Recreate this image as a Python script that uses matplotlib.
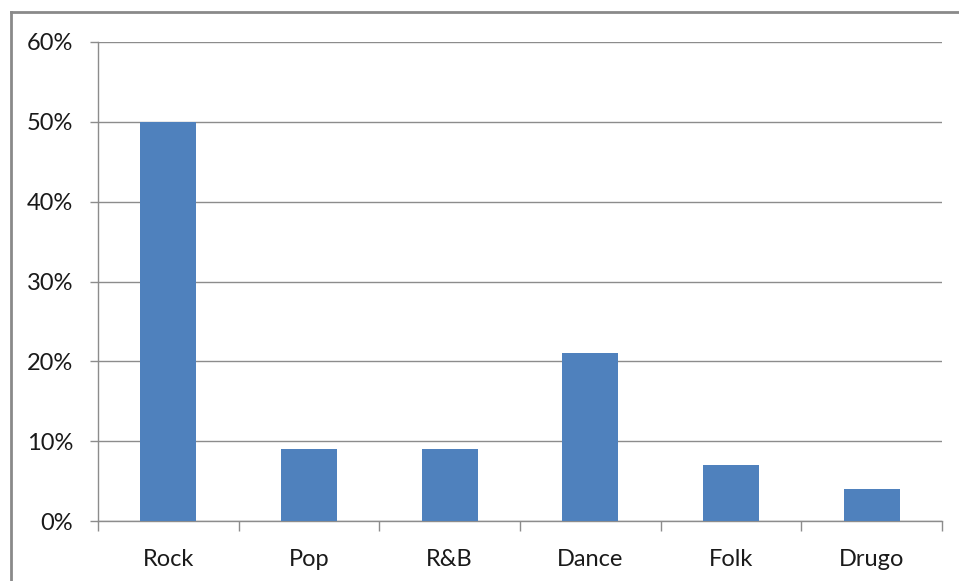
import numpy as np
import matplotlib.pyplot as plt
from matplotlib.lines import Line2D
from matplotlib.ticker import FixedLocator, PercentFormatter

categories = ['Rock', 'Pop', 'R&B', 'Dance', 'Folk', 'Drugo']
shares = [50, 9, 9, 21, 7, 4]

W, H = 959, 581
fig = plt.figure(figsize=(W / 100, H / 100), dpi=100)
plt.rcParams['font.family'] = ['Lato', 'DejaVu Sans']

# plot area in pixels: left 98, right 942, top 42, bottom 521
ax = fig.add_axes([98 / W, 1 - 521 / H, (942 - 98) / W, (521 - 42) / H])

grid_c = '#8c8c8c'
x = np.arange(len(categories))
ax.bar(x, shares, width=0.4, color='#4F81BD', zorder=3)

ax.set_xlim(-0.5, len(categories) - 0.5)
ax.set_ylim(0, 60)
ax.set_yticks(np.arange(0, 61, 10))
ax.yaxis.set_major_formatter(PercentFormatter(decimals=0))
ax.grid(axis='y', color=grid_c, linewidth=1, zorder=0)

ax.set_xticks(x)
ax.set_xticklabels(categories)
ax.xaxis.set_minor_locator(FixedLocator(np.arange(-0.5, len(categories), 1)))
# sizes in points (1pt ~ 1.39px here)
ax.tick_params(axis='x', which='major', length=0, pad=20, labelsize=17, labelcolor='#1a1a1a')
ax.tick_params(axis='x', which='minor', length=7, color=grid_c, width=1)
ax.tick_params(axis='y', length=6, color=grid_c, width=1, pad=12, labelsize=17, labelcolor='#1a1a1a')

for s in ['top', 'right']:
    ax.spines[s].set_visible(False)
for s in ['left', 'bottom']:
    ax.spines[s].set_color(grid_c)
    ax.spines[s].set_linewidth(1)

# outer chart frame (cropped)
fig.add_artist(Line2D([11 / W, 11 / W], [0, 1 - 12 / H], color='#8a8a8a', linewidth=2))
fig.add_artist(Line2D([11 / W, 1], [1 - 12 / H, 1 - 12 / H], color='#8a8a8a', linewidth=2))

fig.savefig('out.png', dpi=100)
